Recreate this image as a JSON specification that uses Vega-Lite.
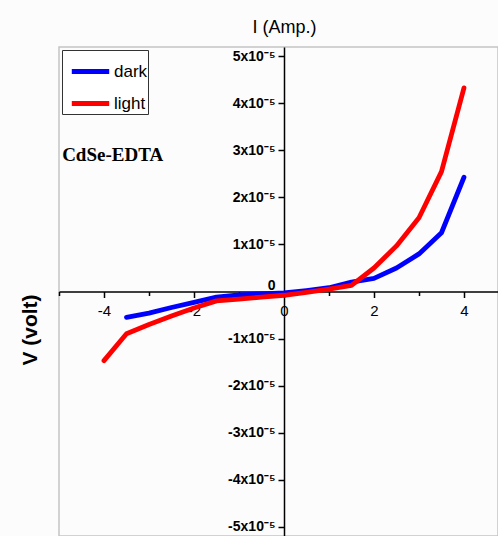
{
  "$schema": "https://vega.github.io/schema/vega-lite/v6.json",
  "autosize": "none",
  "width": 439,
  "height": 489,
  "padding": {"left": 59, "top": 47, "right": 0, "bottom": 0},
  "background": "#fcfcfc",
  "config": {
    "view": {"stroke": "#c4c4c4", "strokeWidth": 1.5},
    "font": "Liberation Sans"
  },
  "datasets": {
    "iv": [
      {"V": -3.5, "I": -0.55e-5, "series": "dark"},
      {"V": -3.0, "I": -0.46e-5, "series": "dark"},
      {"V": -2.5, "I": -0.34e-5, "series": "dark"},
      {"V": -2.0, "I": -0.23e-5, "series": "dark"},
      {"V": -1.5, "I": -0.12e-5, "series": "dark"},
      {"V": -1.0, "I": -0.07e-5, "series": "dark"},
      {"V": -0.5, "I": -0.05e-5, "series": "dark"},
      {"V": 0.0, "I": -0.03e-5, "series": "dark"},
      {"V": 0.5, "I": 0.02e-5, "series": "dark"},
      {"V": 1.0, "I": 0.08e-5, "series": "dark"},
      {"V": 1.5, "I": 0.2e-5, "series": "dark"},
      {"V": 2.0, "I": 0.28e-5, "series": "dark"},
      {"V": 2.5, "I": 0.5e-5, "series": "dark"},
      {"V": 3.0, "I": 0.8e-5, "series": "dark"},
      {"V": 3.5, "I": 1.25e-5, "series": "dark"},
      {"V": 4.0, "I": 2.43e-5, "series": "dark"},
      {"V": -4.0, "I": -1.47e-5, "series": "light"},
      {"V": -3.5, "I": -0.9e-5, "series": "light"},
      {"V": -3.0, "I": -0.7e-5, "series": "light"},
      {"V": -2.5, "I": -0.52e-5, "series": "light"},
      {"V": -2.0, "I": -0.35e-5, "series": "light"},
      {"V": -1.5, "I": -0.2e-5, "series": "light"},
      {"V": -1.0, "I": -0.16e-5, "series": "light"},
      {"V": -0.5, "I": -0.12e-5, "series": "light"},
      {"V": 0.0, "I": -0.08e-5, "series": "light"},
      {"V": 0.5, "I": -0.02e-5, "series": "light"},
      {"V": 1.0, "I": 0.05e-5, "series": "light"},
      {"V": 1.5, "I": 0.13e-5, "series": "light"},
      {"V": 2.0, "I": 0.5e-5, "series": "light"},
      {"V": 2.5, "I": 0.97e-5, "series": "light"},
      {"V": 3.0, "I": 1.57e-5, "series": "light"},
      {"V": 3.5, "I": 2.55e-5, "series": "light"},
      {"V": 4.0, "I": 4.33e-5, "series": "light"}
    ],
    "note": [
      {"V": -4.93, "I": 2.91e-5, "label": "CdSe-EDTA"}
    ]
  },
  "layer": [
    {
      "data": {"name": "iv"},
      "mark": {"type": "line", "strokeWidth": 4.8, "strokeJoin": "round", "strokeCap": "round"},
      "encoding": {
        "x": {
          "field": "V", "type": "quantitative",
          "scale": {"domain": [-5, 4.756], "nice": false, "zero": false},
          "axis": {
            "orient": "bottom",
            "offset": -244.5,
            "values": [-5, -4, -3, -2, -1, 0, 1, 2, 3, 4],
            "labelExpr": "datum.value % 2 != 0 ? '' : '' + datum.value",
            "grid": false,
            "domainColor": "#000",
            "domainWidth": 1.5,
            "tickColor": "#000",
            "tickWidth": 1.5,
            "tickSize": {"condition": {"test": "datum.value % 2 != 0", "value": 4}, "value": 6},
            "labelFontSize": 15,
            "labelColor": "#000",
            "labelPadding": 6,
            "title": "V (volt)",
            "titleAngle": -90,
            "titleX": -29,
            "titleY": 38,
            "titleAlign": "center",
            "titleBaseline": "middle",
            "titleFontSize": 21,
            "titleFontWeight": "bold",
            "titleColor": "#000"
          }
        },
        "y": {
          "field": "I", "type": "quantitative",
          "scale": {"domain": [-5.2e-5, 5.2e-5], "nice": false, "zero": false},
          "axis": {
            "orient": "left",
            "offset": -225,
            "values": [-5e-5, -4.5e-5, -4e-5, -3.5e-5, -3e-5, -2.5e-5, -2e-5, -1.5e-5, -1e-5, -0.5e-5, 0, 0.5e-5, 1e-5, 1.5e-5, 2e-5, 2.5e-5, 3e-5, 3.5e-5, 4e-5, 4.5e-5, 5e-5],
            "labelExpr": "datum.value == 0 ? '0' : (round(datum.value*2e5) % 2 != 0 ? '' : round(datum.value*1e5) + 'x10⁻⁵')",
            "labelOffset": {"condition": {"test": "datum.value == 0", "value": -6}, "value": 0},
            "grid": false,
            "domainColor": "#000",
            "domainWidth": 1.5,
            "tickColor": "#000",
            "tickWidth": 1.5,
            "tickSize": {"condition": {"test": "round(datum.value*2e5) % 2 != 0", "value": 4}, "value": 6},
            "labelFontSize": 14,
            "labelFontWeight": "bold",
            "labelColor": "#000",
            "labelPadding": 3,
            "title": "I (Amp.)",
            "titleAngle": 0,
            "titleX": 0,
            "titleY": -20,
            "titleAlign": "center",
            "titleBaseline": "middle",
            "titleFontSize": 18,
            "titleFontWeight": "normal",
            "titleColor": "#000"
          }
        },
        "color": {
          "field": "series", "type": "nominal",
          "scale": {"domain": ["dark", "light"], "range": ["#0000ff", "#ff0000"]},
          "legend": {
            "title": null,
            "orient": "top-left",
            "offset": 3,
            "symbolType": "stroke",
            "symbolSize": 1400,
            "symbolStrokeWidth": 5,
            "symbolOffset": 7,
            "labelFontSize": 17,
            "labelColor": "#000",
            "labelOffset": 2,
            "labelExpr": "datum.label + ' '",
            "rowPadding": -18,
            "padding": 0,
            "strokeColor": "#333",
            "fillColor": "#ffffff"
          }
        }
      }
    },
    {
      "data": {"name": "note"},
      "mark": {"type": "text", "align": "left", "baseline": "middle", "font": "Liberation Serif", "fontWeight": "bold", "fontSize": 19, "color": "#000"},
      "encoding": {
        "x": {"field": "V", "type": "quantitative"},
        "y": {"field": "I", "type": "quantitative"},
        "text": {"field": "label"}
      }
    }
  ]
}
